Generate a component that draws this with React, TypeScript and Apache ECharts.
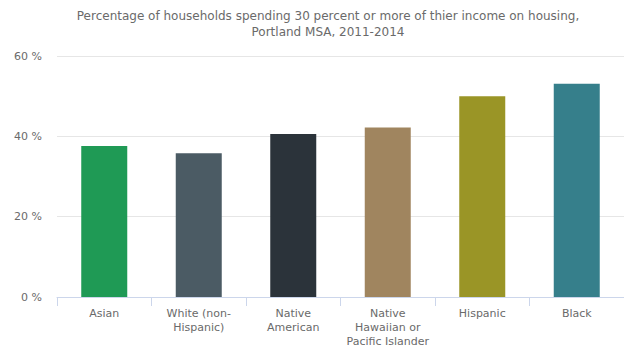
import React, { useEffect, useRef } from "react";
import * as echarts from "echarts";

const titleLines = [
  "Percentage of households spending 30 percent or more of thier income on housing,",
  "Portland MSA, 2011-2014",
];
const categories = [
  "Asian",
  "White (non-Hispanic)",
  "Native American",
  "Native Hawaiian or Pacific Islander",
  "Hispanic",
  "Black",
];
const categoryLabels = [
  "Asian",
  "White (non-\nHispanic)",
  "Native\nAmerican",
  "Native\nHawaiian or\nPacific Islander",
  "Hispanic",
  "Black",
];
const values = [37.6, 35.8, 40.6, 42.2, 50.0, 53.1];
const barColors = ["#1f9a55", "#4b5b64", "#2b333a", "#a0855f", "#9a9526", "#367f8b"];
const yTicks = [0, 20, 40, 60];

const FONT = "DejaVu Sans";

export default function App() {
  const ref = useRef<HTMLDivElement>(null);
  useEffect(() => {
    if (!ref.current) return;
    const chart = echarts.init(ref.current, undefined, { renderer: "svg" });
    chart.setOption({
      animation: false,
      backgroundColor: "#ffffff",
      textStyle: { fontFamily: FONT },
      title: {
        text: titleLines.join("\n"),
        left: 323,
        textAlign: "center",
        top: 3,
        textStyle: {
          fontFamily: FONT,
          fontSize: 12,
          fontWeight: "normal",
          color: "#6a6a6a",
          lineHeight: 16,
        },
      },
      grid: { left: 57, right: -13, top: 56, bottom: 50 },
      xAxis: {
        type: "category",
        data: categories,
        axisLine: { lineStyle: { color: "#ccd6eb" } },
        axisTick: { show: true, alignWithLabel: false, interval: 0, length: 9, lineStyle: { color: "#ccd6eb" } },
        axisLabel: {
          interval: 0,
          margin: 9,
          color: "#6a6a6a",
          fontSize: 11,
          lineHeight: 14,
          fontFamily: FONT,
          formatter: (_v: string, i: number) => categoryLabels[i],
        },
      },
      yAxis: {
        type: "value",
        min: yTicks[0],
        max: yTicks[yTicks.length - 1],
        interval: 20,
        axisLine: { show: false },
        axisTick: { show: false },
        splitLine: { lineStyle: { color: "#e6e6e6" } },
        axisLabel: {
          margin: 15,
          color: "#6a6a6a",
          fontSize: 11,
          fontFamily: FONT,
          formatter: (v: number) => `${v} %`,
        },
      },
      series: [
        {
          type: "bar",
          data: values.map((v, i) => ({ value: v, itemStyle: { color: barColors[i] } })),
          barWidth: 46,
        },
      ],
    });
    return () => chart.dispose();
  }, []);
  return (
    <div
      ref={ref}
      style={{ position: "absolute", left: 0, top: 0, width: 624, height: 348 }}
    />
  );
}
